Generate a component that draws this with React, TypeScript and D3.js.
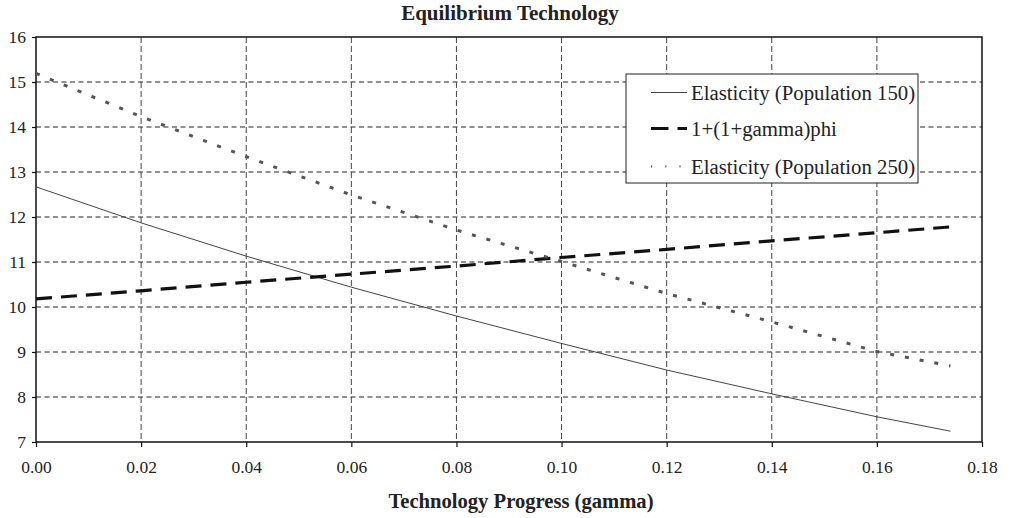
import { useEffect, useRef } from "react";
import * as d3 from "d3";

const gammas = [0, 0.02, 0.04, 0.06, 0.08, 0.1, 0.12, 0.14, 0.16, 0.174];
const elast150 = [12.67, 11.87, 11.13, 10.44, 9.8, 9.19, 8.6, 8.07, 7.56, 7.24];
const phiLine = [10.18, 10.36, 10.55, 10.73, 10.91, 11.1, 11.28, 11.47, 11.65, 11.78];
const elast250 = [15.19, 14.23, 13.34, 12.49, 11.71, 11.01, 10.3, 9.67, 9.01, 8.69];

const xTicks = [0, 0.02, 0.04, 0.06, 0.08, 0.1, 0.12, 0.14, 0.16, 0.18];
const yTicks = [7, 8, 9, 10, 11, 12, 13, 14, 15, 16];

const seriesNames = ["Elasticity (Population 150)", "1+(1+gamma)phi", "Elasticity (Population 250)"];

const W = 1011;
const H = 518;
const margin = { top: 37, right: 29, bottom: 76, left: 36 };
const FONT = "Liberation Serif";

const App = () => {
  const ref = useRef<SVGSVGElement>(null);

  useEffect(() => {
    const svg = d3.select(ref.current);
    svg.selectAll("*").remove();

    const x = d3.scaleLinear().domain([0, 0.18]).range([margin.left, W - margin.right]);
    const y = d3.scaleLinear().domain([7, 16]).range([H - margin.bottom, margin.top]);

    // grid
    const grid = svg.append("g");
    grid
      .selectAll("line.h")
      .data(yTicks.slice(1, -1))
      .join("line")
      .attr("x1", x(0))
      .attr("x2", x(0.18))
      .attr("y1", (d) => y(d))
      .attr("y2", (d) => y(d))
      .attr("stroke", "#222")
      .attr("stroke-width", 1)
      .attr("stroke-dasharray", "5,3.5");
    grid
      .selectAll("line.v")
      .data(xTicks.slice(1, -1))
      .join("line")
      .attr("x1", (d) => x(d))
      .attr("x2", (d) => x(d))
      .attr("y1", y(16))
      .attr("y2", y(7))
      .attr("stroke", "#444")
      .attr("stroke-width", 1)
      .attr("stroke-dasharray", "6,3");

    // frame
    svg
      .append("rect")
      .attr("x", x(0))
      .attr("y", y(16))
      .attr("width", x(0.18) - x(0))
      .attr("height", y(7) - y(16))
      .attr("fill", "none")
      .attr("stroke", "#111")
      .attr("stroke-width", 1.5);

    // axes
    const xAxis = svg
      .append("g")
      .attr("transform", `translate(0,${y(7)})`)
      .call(
        d3
          .axisBottom(x)
          .tickValues(xTicks)
          .tickSize(5)
          .tickPadding(14)
          .tickFormat((d) => d3.format(".2f")(d as number))
      );
    xAxis.select(".domain").remove();

    const yAxis = svg
      .append("g")
      .attr("transform", `translate(${x(0)},0)`)
      .call(d3.axisLeft(y).tickValues(yTicks).tickSize(4).tickPadding(6).tickFormat(d3.format("d")));
    yAxis.select(".domain").remove();

    [xAxis, yAxis].forEach((g) => {
      g.attr("font-family", FONT).attr("font-size", 17.5);
      g.selectAll("line").attr("stroke", "#111").attr("stroke-width", 1.2);
      g.selectAll("text").attr("fill", "#222");
    });

    // lines
    const line = d3
      .line<number>()
      .x((_, i) => x(gammas[i]))
      .y((d) => y(d));

    const styles = [
      { data: elast150, color: "#444", width: 1, dash: null, legendDash: null, legendWidth: 1 },
      { data: phiLine, color: "#111", width: 3.2, dash: "16,9", legendDash: "17.5,9", legendWidth: 3.2 },
      { data: elast250, color: "#555", width: 3, dash: "4,11", legendDash: "1.2,13", legendWidth: 2 },
    ];

    styles.forEach((s) => {
      svg
        .append("path")
        .datum(s.data)
        .attr("fill", "none")
        .attr("stroke", s.color)
        .attr("stroke-width", s.width)
        .attr("stroke-dasharray", s.dash)
        .attr("d", line);
    });

    // legend
    const lg = svg.append("g").attr("transform", "translate(626,74)");
    lg.append("rect")
      .attr("width", 292)
      .attr("height", 109)
      .attr("fill", "white")
      .attr("stroke", "#222")
      .attr("stroke-width", 1);
    const rowY = [18.5, 54.5, 92.5];
    styles.forEach((s, i) => {
      lg.append("line")
        .attr("x1", 25)
        .attr("x2", 61)
        .attr("y1", rowY[i])
        .attr("y2", rowY[i])
        .attr("stroke", s.color)
        .attr("stroke-width", s.legendWidth)
        .attr("stroke-dasharray", s.legendDash);
      lg.append("text")
        .attr("x", 65)
        .attr("y", rowY[i])
        .attr("dy", "0.34em")
        .attr("font-family", FONT)
        .attr("font-size", 20.8)
        .attr("fill", "#222")
        .text(seriesNames[i]);
    });

    // titles
    svg
      .append("text")
      .attr("x", 510)
      .attr("y", 19.5)
      .attr("text-anchor", "middle")
      .attr("font-family", FONT)
      .attr("font-weight", "bold")
      .attr("font-size", 21)
      .attr("fill", "#222")
      .text("Equilibrium Technology");
    svg
      .append("text")
      .attr("x", 521)
      .attr("y", 508)
      .attr("text-anchor", "middle")
      .attr("font-family", FONT)
      .attr("font-weight", "bold")
      .attr("font-size", 20.6)
      .attr("fill", "#222")
      .text("Technology Progress (gamma)");
  }, []);

  return (
    <svg
      ref={ref}
      width={W}
      height={H}
      style={{ position: "absolute", left: 0, top: 0, background: "white" }}
    />
  );
};

export default App;
